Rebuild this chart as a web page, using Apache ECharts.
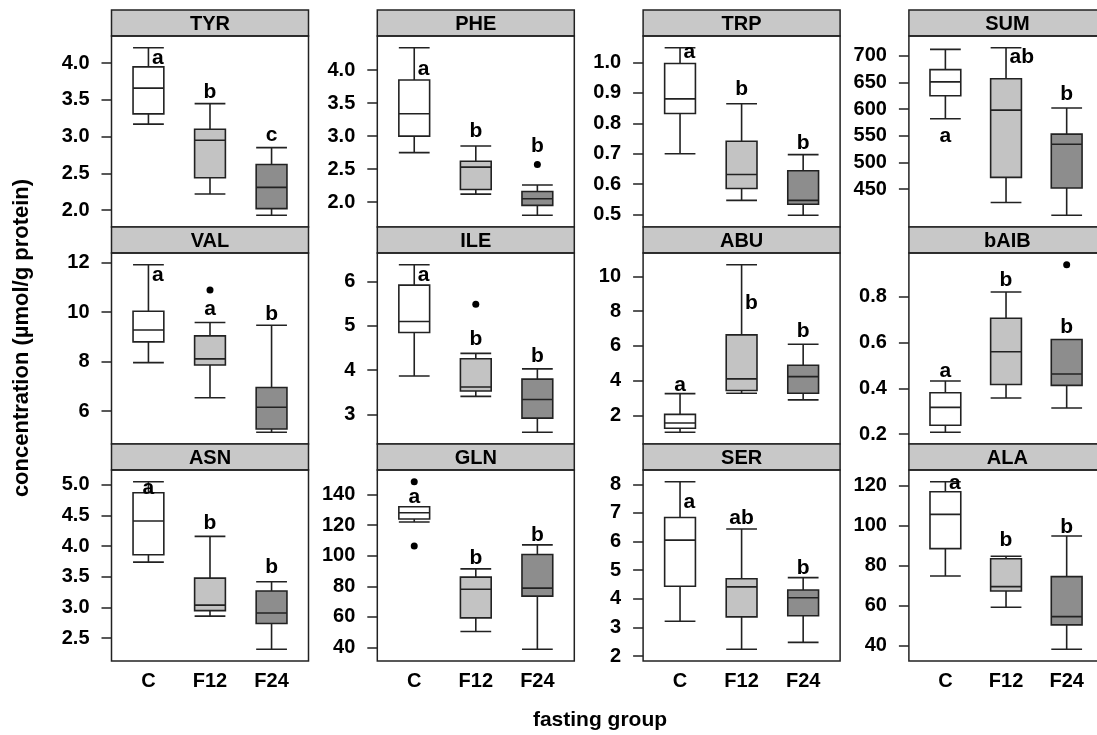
<!DOCTYPE html>
<html><head><meta charset="utf-8">
<script src="https://cdn.jsdelivr.net/npm/echarts@6/dist/echarts.min.js"></script>
<style>html,body{margin:0;padding:0;background:#fff}#c{width:1097px;height:735px}</style>
</head><body><div id="c"></div>
<script>
const groups = ['C', 'F12', 'F24'];
const panels = ['TYR', 'PHE', 'TRP', 'SUM', 'VAL', 'ILE', 'ABU', 'bAIB', 'ASN', 'GLN', 'SER', 'ALA'];
// per panel, per group: [min, Q1, median, Q3, max]
const boxStats = [
  [[3.17, 3.31, 3.66, 3.95, 4.21], [2.22, 2.44, 2.95, 3.10, 3.45], [1.93, 2.02, 2.31, 2.62, 2.85]],
  [[2.75, 3.00, 3.34, 3.85, 4.34], [2.12, 2.19, 2.53, 2.62, 2.85], [1.80, 1.95, 2.05, 2.16, 2.26]],
  [[0.70, 0.832, 0.88, 0.996, 1.048], [0.547, 0.586, 0.632, 0.741, 0.864], [0.498, 0.534, 0.547, 0.644, 0.697]],
  [[582, 625, 651, 674, 712], [425, 472, 598, 657, 715], [401, 452, 534, 553, 602]],
  [[7.96, 8.80, 9.28, 10.04, 11.92], [6.54, 7.86, 8.11, 9.04, 9.58], [5.14, 5.27, 6.15, 6.95, 9.47]],
  [[3.87, 4.85, 5.10, 5.92, 6.38], [3.41, 3.53, 3.62, 4.26, 4.38], [2.60, 2.92, 3.34, 3.80, 4.03]],
  [[1.04, 1.27, 1.57, 2.07, 3.26], [3.28, 3.44, 4.11, 6.64, 10.67], [2.90, 3.28, 4.24, 4.89, 6.10]],
  [[0.208, 0.239, 0.317, 0.381, 0.432], [0.358, 0.417, 0.56, 0.707, 0.822], [0.314, 0.413, 0.463, 0.614, 0.614]],
  [[3.74, 3.86, 4.41, 4.87, 5.05], [2.86, 2.95, 3.04, 3.48, 4.16], [2.32, 2.74, 2.91, 3.27, 3.42]],
  [[122, 124, 128, 132, 132], [50.5, 59.4, 78.1, 86.0, 91.4], [38.9, 73.6, 78.8, 100.8, 107.1]],
  [[3.22, 4.44, 6.05, 6.84, 8.09], [2.24, 3.37, 4.42, 4.70, 6.44], [2.48, 3.41, 4.04, 4.31, 4.74]],
  [[74.9, 88.6, 105.7, 117.0, 122.0], [59.3, 67.4, 69.6, 83.5, 84.8], [38.3, 50.5, 54.6, 74.6, 94.9]]
];
// outliers per panel: [groupIndex, value]
const outliers = [
  [], [[2, 2.57]], [], [],
  [[1, 10.9]], [[1, 5.49]], [], [[2, 0.941]],
  [], [[0, 148.3], [0, 106.4]], [], []
];
// significance letters
const letterText = [
  ['a', 'b', 'c'], ['a', 'b', 'b'], ['a', 'b', 'b'], ['a', 'ab', 'b'],
  ['a', 'a', 'b'], ['a', 'b', 'b'], ['a', 'b', 'b'], ['a', 'b', 'b'],
  ['a', 'b', 'b'], ['a', 'b', 'b'], ['a', 'ab', 'b'], ['a', 'b', 'b']
];
const letterValue = [
  [4.07, 3.60, 3.02], [4.02, 3.07, 2.84], [1.032, 0.911, 0.734], [550, 698, 628],
  [11.49, 10.12, 9.93], [6.15, 4.70, 4.32], [3.76, 8.46, 6.83], [0.476, 0.873, 0.669],
  [4.95, 4.37, 3.66], [138.5, 98.2, 113.4], [7.37, 6.81, 5.06], [121.5, 92.9, 99.5]
];
const letterSide = [
  ['r', 'c', 'c'], ['r', 'c', 'c'], ['r', 'c', 'c'], ['c', 'r', 'c'],
  ['r', 'c', 'c'], ['r', 'c', 'c'], ['c', 'r', 'c'], ['c', 'c', 'c'],
  ['c', 'c', 'c'], ['c', 'c', 'c'], ['r', 'c', 'c'], ['r', 'c', 'c']
];
const tickLabels = [
  ['2.0', '2.5', '3.0', '3.5', '4.0'],
  ['2.0', '2.5', '3.0', '3.5', '4.0'],
  ['0.5', '0.6', '0.7', '0.8', '0.9', '1.0'],
  ['450', '500', '550', '600', '650', '700'],
  ['6', '8', '10', '12'],
  ['3', '4', '5', '6'],
  ['2', '4', '6', '8', '10'],
  ['0.2', '0.4', '0.6', '0.8'],
  ['2.5', '3.0', '3.5', '4.0', '4.5', '5.0'],
  ['40', '60', '80', '100', '120', '140'],
  ['2', '3', '4', '5', '6', '7', '8'],
  ['40', '60', '80', '100', '120']
];

// ---- layout / style ----
const FONT = "'Liberation Sans', Arial, sans-serif";
const fills = ['#ffffff', '#c3c3c3', '#8d8d8d'];
const LINE = '#222222';
const L0 = 111.5, PITCH = 265.8, PW = 197;
const rowTop = [10, 227, 444], STRIP = 26, PH = 191;
const U = PW / 3.2;

const grids = [], xAxes = [], yAxes = [], series = [], graphics = [];
panels.forEach((name, p) => {
  const r = Math.floor(p / 4), c = p % 4;
  const PL = L0 + c * PITCH;
  const top = rowTop[r] + STRIP;
  grids.push({ left: PL + 0.1 * U, top: top, width: 3 * U, height: PH });
  const all = [];
  boxStats[p].forEach(s => all.push(...s));
  outliers[p].forEach(o => all.push(o[1]));
  const lo = Math.min(...all), hi = Math.max(...all), pad = 0.07 * (hi - lo);
  const labels = tickLabels[p];
  const vals = labels.map(Number);
  xAxes.push({
    type: 'category', gridIndex: p, data: groups, boundaryGap: true,
    axisLine: { show: false }, axisTick: { show: false }, splitLine: { show: false },
    axisLabel: { show: r === 2, margin: 10, fontSize: 20, fontWeight: 'bold', fontFamily: FONT, color: '#000' }
  });
  yAxes.push({
    type: 'value', gridIndex: p, min: lo - pad, max: hi + pad, offset: 0.1 * U,
    axisLine: { show: false }, splitLine: { show: false },
    axisTick: { show: true, length: 10, customValues: vals, lineStyle: { color: LINE, width: 1.5 } },
    axisLabel: {
      show: true, customValues: vals, margin: 22, fontSize: 20, fontWeight: 'bold', fontFamily: FONT, color: '#000',
      formatter: v => { const i = vals.findIndex(t => Math.abs(t - v) < 1e-9); return i >= 0 ? labels[i] : ''; }
    }
  });
  series.push({
    type: 'boxplot', xAxisIndex: p, yAxisIndex: p, boxWidth: [0.5 * U, 0.5 * U], silent: true,
    itemStyle: { borderColor: LINE, borderWidth: 1.6 },
    data: boxStats[p].map((s, i) => ({ value: s, itemStyle: { color: fills[i] } }))
  });
  if (outliers[p].length) series.push({
    type: 'scatter', xAxisIndex: p, yAxisIndex: p, symbolSize: 7, silent: true,
    itemStyle: { color: '#000', opacity: 1 }, data: outliers[p].map(o => [o[0], o[1]])
  });
  series.push({
    type: 'scatter', xAxisIndex: p, yAxisIndex: p, symbolSize: 1, silent: true, z: 5,
    itemStyle: { color: 'transparent', opacity: 1 },
    data: letterText[p].map((t, i) => ({
      name: t, value: [i, letterValue[p][i]],
      label: letterSide[p][i] === 'r' ? { position: 'right', distance: 3 } : { position: 'inside' }
    })),
    label: { show: true, formatter: '{b}', fontSize: 21, fontWeight: 'bold', fontFamily: FONT, color: '#000' }
  });
  // strip
  graphics.push({
    type: 'rect', shape: { x: PL, y: rowTop[r], width: PW, height: STRIP },
    style: { fill: '#c8c8c8', stroke: LINE, lineWidth: 1.5 }, z: 10
  });
  graphics.push({
    type: 'text', x: PL + PW / 2, y: rowTop[r] + STRIP / 2 + 1, z: 11,
    style: { text: name, align: 'center', verticalAlign: 'middle', textAlign: 'center', textVerticalAlign: 'middle',
      font: 'bold 20px ' + FONT, fill: '#000' }
  });
  // panel border
  graphics.push({
    type: 'rect', shape: { x: PL, y: top, width: PW, height: PH },
    style: { fill: 'none', stroke: LINE, lineWidth: 1.5 }, z: 10
  });
});
graphics.push({
  type: 'text', x: 22, y: 338, rotation: Math.PI / 2, z: 11,
  style: { text: 'concentration (µmol/g protein)', align: 'center', verticalAlign: 'middle', textAlign: 'center', textVerticalAlign: 'middle',
    font: 'bold 22px ' + FONT, fill: '#000' }
});
graphics.push({
  type: 'text', x: 600, y: 720, z: 11,
  style: { text: 'fasting group', align: 'center', verticalAlign: 'middle', textAlign: 'center', textVerticalAlign: 'middle',
    font: 'bold 21px ' + FONT, fill: '#000' }
});

const chart = echarts.init(document.getElementById('c'), null, { renderer: 'canvas' });
chart.setOption({
  backgroundColor: '#fff', animation: false,
  grid: grids, xAxis: xAxes, yAxis: yAxes, series: series, graphic: graphics
});
</script></body></html>
